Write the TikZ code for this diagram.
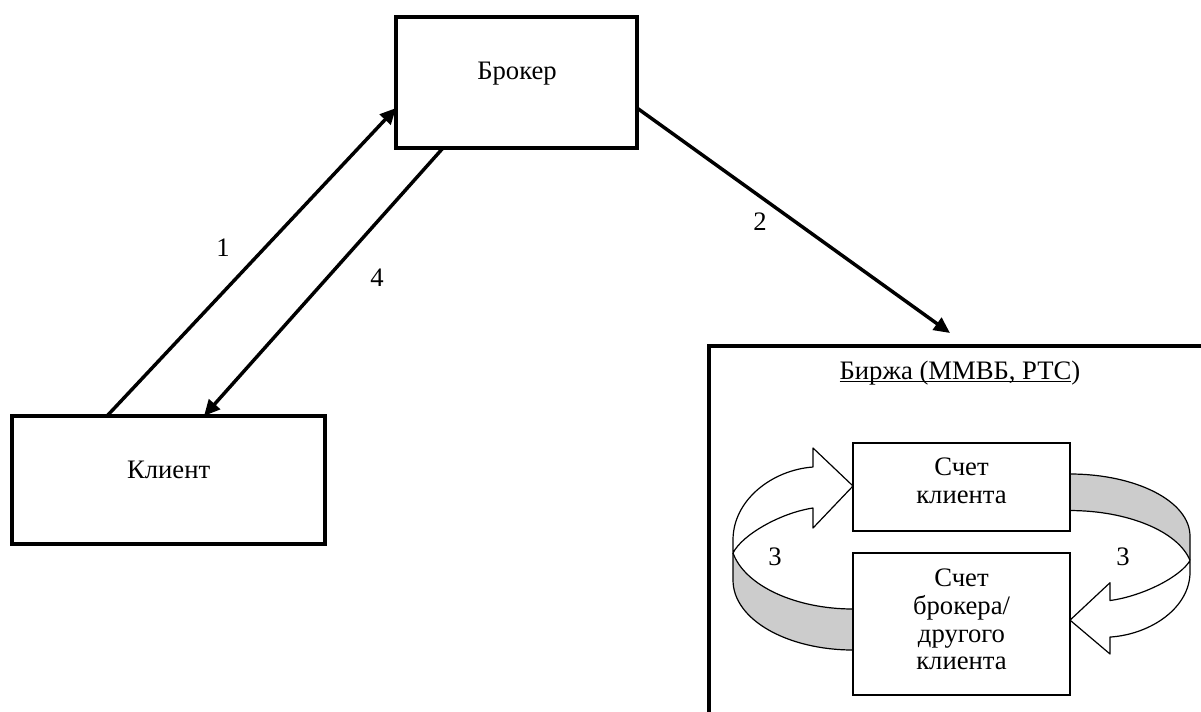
\documentclass[tikz,border=0pt]{standalone}
\usepackage{fontspec}
\setmainfont{Liberation Serif}
\usetikzlibrary{arrows.meta,calc}
\newcommand\wordul[1]{\leavevmode\setbox0=\hbox{#1}\rlap{\rule[-2.6pt]{\wd0}{0.9pt}}\box0}
\newcommand\turnarrow{%
  \fill[black!20] (-120,-97) .. controls (-108,-64) and (-57,-41) .. (0,-41) -- (0,0) .. controls (-65,0) and (-120,-30) .. (-120,-70) -- cycle;
  \draw[ribbon] (-120,-97) .. controls (-108,-64) and (-57,-41) .. (0,-41);
  \draw[ribbon] (0,0) .. controls (-65,0) and (-120,-30) .. (-120,-70) -- (-120,-97);
  \draw[ribbon, fill=white] (0,-164) -- (-40,-202) -- (-40,-183) .. controls (-81,-180) and (-120,-150) .. (-120,-110) -- (-120,-97) .. controls (-111,-115) and (-73,-137) .. (-40,-142) -- (-40,-122) -- cycle;
}
\begin{document}
\begin{tikzpicture}[x=0.75pt,y=-0.75pt,
  bigbox/.style={draw, line width=3pt, inner sep=0pt, outer sep=0pt, fill=white},
  acc/.style={draw, line width=1.3pt, inner sep=0pt, outer sep=0pt, fill=white},
  txt/.style={font=\fontsize{20}{20.8}\selectfont, inner sep=0pt, align=center},
  flow/.style={line width=2.6pt, -{Triangle[length=12pt,width=11pt]}},
  ribbon/.style={line width=0.9pt, line join=round},
  numlbl/.style={font=\fontsize{20}{24}\selectfont, inner sep=0pt}]
\useasboundingbox (0,0) rectangle (1201,711);
\clip (0,0) rectangle (1201,711);
\fill[white] (0,0) rectangle (1201,711);

% exchange frame
\node[bigbox, minimum width=398.25pt, minimum height=310.5pt] (birzha) at (974.5,553) {};
\node[txt, anchor=base] (birzhalbl) at (960,379) {\wordul{Биржа (ММВБ, РТС})};

% broker and client
\node[bigbox, minimum width=180.75pt, minimum height=98.25pt] (broker) at (516.5,82.5) {};
\node[txt, anchor=base] (brokerlbl) at (517,79.3) {Брокер};
\node[bigbox, minimum width=234.75pt, minimum height=96pt] (client) at (168.5,480) {};
\node[txt, anchor=base] (clientlbl) at (168.7,478.3) {Клиент};

% flows
\draw[flow] ($(client.north west)+(95,0)$) -- ($(broker.north west)+(0,91)$);
\draw[flow] ($(broker.south west)+(47,0)$) -- ($(client.north west)+(192,0)$);
\coordinate (a2end) at (950,333);
\draw[flow] ($(broker.north east)+(0,91)$) -- (a2end);

\node[numlbl] (n1) at (223,248) {1};
\node[numlbl] (n4) at (377,278) {4};
\node[numlbl] (n2) at (760,222) {2};

% circular arrows
\begin{scope}[shift={(853,650)}]
  \turnarrow
\end{scope}
\begin{scope}[shift={(1070,474)}, xscale=-1, yscale=-0.891]
  \turnarrow
\end{scope}

% accounts
\node[acc, minimum width=162.75pt, minimum height=66pt] (acc1) at (961.5,487) {};
\node[txt] (acc1lbl) at (961.5,481) {Счет\\клиента};
\node[acc, minimum width=162.75pt, minimum height=106.5pt] (acc2) at (961.5,624) {};
\node[txt] (acc2lbl) at (961.5,619.5) {Счет\\брокера/\\другого\\клиента};

\node[numlbl] (n3a) at (775,557) {3};
\node[numlbl] (n3b) at (1123,557) {3};
\end{tikzpicture}
\end{document}
